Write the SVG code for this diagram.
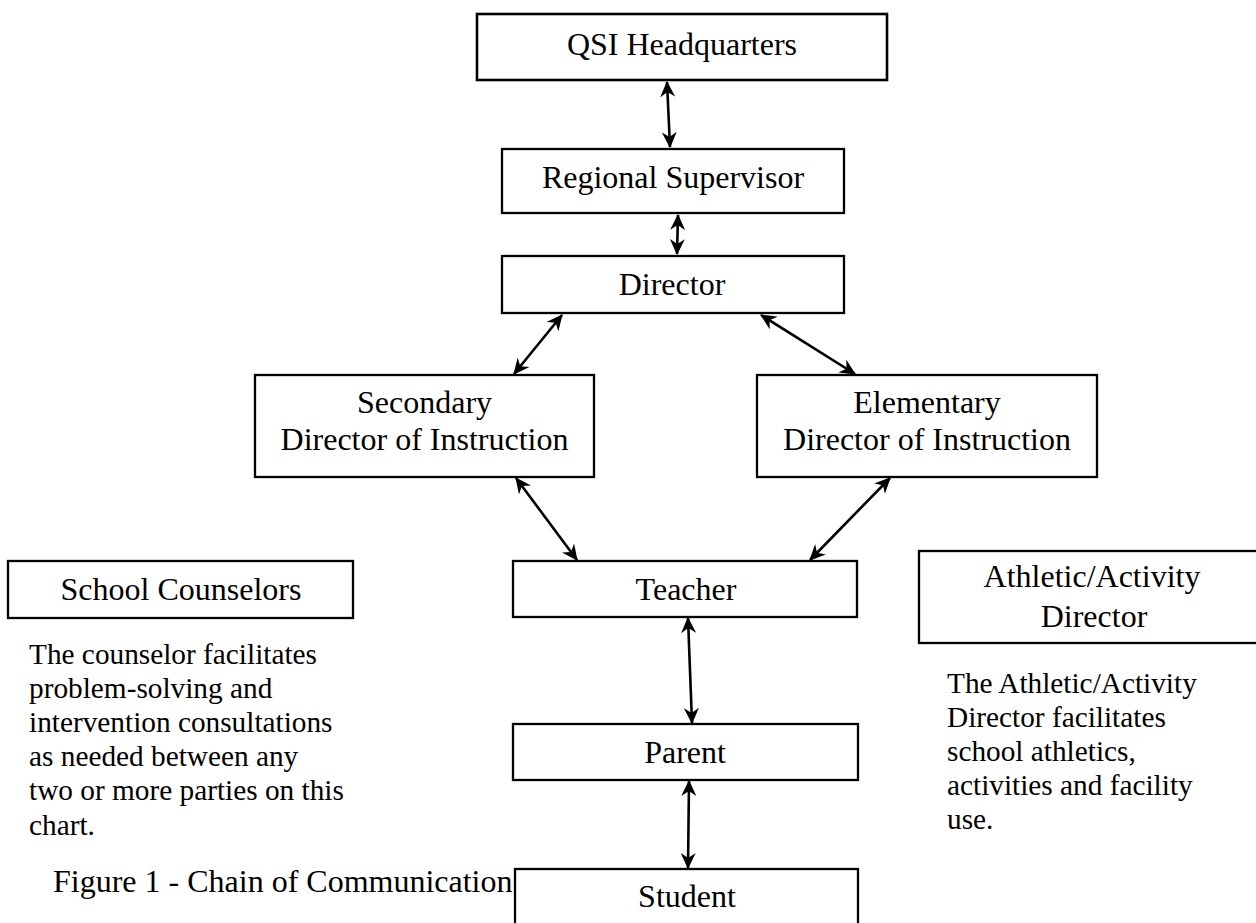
<svg xmlns="http://www.w3.org/2000/svg" width="1256" height="923" viewBox="0 0 1256 923">
<style>
.box{fill:#fff;stroke:#000;stroke-width:2.3}
.t{font-family:"Liberation Serif","Times New Roman",serif;font-size:32px;fill:#000;text-anchor:middle}
.p{font-family:"Liberation Serif","Times New Roman",serif;font-size:29.3px;fill:#000}
.c{stroke:#000;stroke-width:2.6;fill:none;marker-start:url(#ah);marker-end:url(#ah)}
</style>
<defs>
<marker id="ah" viewBox="0 0 16 15" refX="15" refY="7.5" markerWidth="16" markerHeight="15" markerUnits="userSpaceOnUse" orient="auto-start-reverse">
<path d="M0,0 L16,7.5 L0,15 L5,7.5 z" fill="#000"/>
</marker>
</defs>
<rect width="1256" height="923" fill="#fff"/>
<g id="connectors">
<line class="c" x1="667" y1="82" x2="670" y2="147"/>
<line class="c" x1="678" y1="215" x2="677" y2="254"/>
<line class="c" x1="562" y1="315" x2="514" y2="374"/>
<line class="c" x1="761" y1="315" x2="855" y2="374"/>
<line class="c" x1="516" y1="478" x2="577" y2="560"/>
<line class="c" x1="890" y1="478" x2="810" y2="560"/>
<line class="c" x1="688" y1="618" x2="692" y2="723"/>
<line class="c" x1="689" y1="781" x2="688" y2="868"/>
</g>
<g id="qsi">
<rect class="box" x="477" y="14" width="410" height="66" style="stroke-width:2.6"/>
<text class="t" x="682" y="55">QSI Headquarters</text>
</g>
<g id="regional">
<rect class="box" x="502" y="149" width="342" height="64"/>
<text class="t" x="673" y="188">Regional Supervisor</text>
</g>
<g id="director">
<rect class="box" x="502" y="256" width="342" height="57"/>
<text class="t" x="672" y="295">Director</text>
</g>
<g id="secondary">
<rect class="box" x="255" y="375" width="339" height="102"/>
<text class="t" x="424.5" y="413">Secondary</text>
<text class="t" x="424.5" y="450">Director of Instruction</text>
</g>
<g id="elementary">
<rect class="box" x="757" y="375" width="340" height="102"/>
<text class="t" x="927" y="413">Elementary</text>
<text class="t" x="927" y="450">Director of Instruction</text>
</g>
<g id="counselors">
<rect class="box" x="8" y="561" width="345" height="57"/>
<text class="t" x="181" y="600">School Counselors</text>
</g>
<g id="counselor-note">
<text class="p" x="29" y="664">The counselor facilitates</text>
<text class="p" x="29" y="698">problem-solving and</text>
<text class="p" x="29" y="732">intervention consultations</text>
<text class="p" x="29" y="766">as needed between any</text>
<text class="p" x="29" y="800">two or more parties on this</text>
<text class="p" x="29" y="835">chart.</text>
</g>
<g id="teacher">
<rect class="box" x="513" y="561" width="344" height="56"/>
<text class="t" x="686" y="600">Teacher</text>
</g>
<g id="athletic">
<rect class="box" x="919" y="551" width="346" height="92"/>
<text class="t" x="1092" y="587">Athletic/Activity</text>
<text class="t" x="1094" y="627">Director</text>
</g>
<g id="athletic-note">
<text class="p" x="947" y="693">The Athletic/Activity</text>
<text class="p" x="947" y="727">Director facilitates</text>
<text class="p" x="947" y="761">school athletics,</text>
<text class="p" x="947" y="795">activities and facility</text>
<text class="p" x="947" y="829">use.</text>
</g>
<g id="parent">
<rect class="box" x="513" y="724" width="345" height="56"/>
<text class="t" x="685" y="763">Parent</text>
</g>
<g id="student">
<rect class="box" x="515" y="869" width="343" height="70"/>
<text class="t" x="687" y="907">Student</text>
</g>
<g id="caption">
<text class="t" x="53" y="892" style="text-anchor:start">Figure 1 - Chain of Communication</text>
</g>
</svg>
